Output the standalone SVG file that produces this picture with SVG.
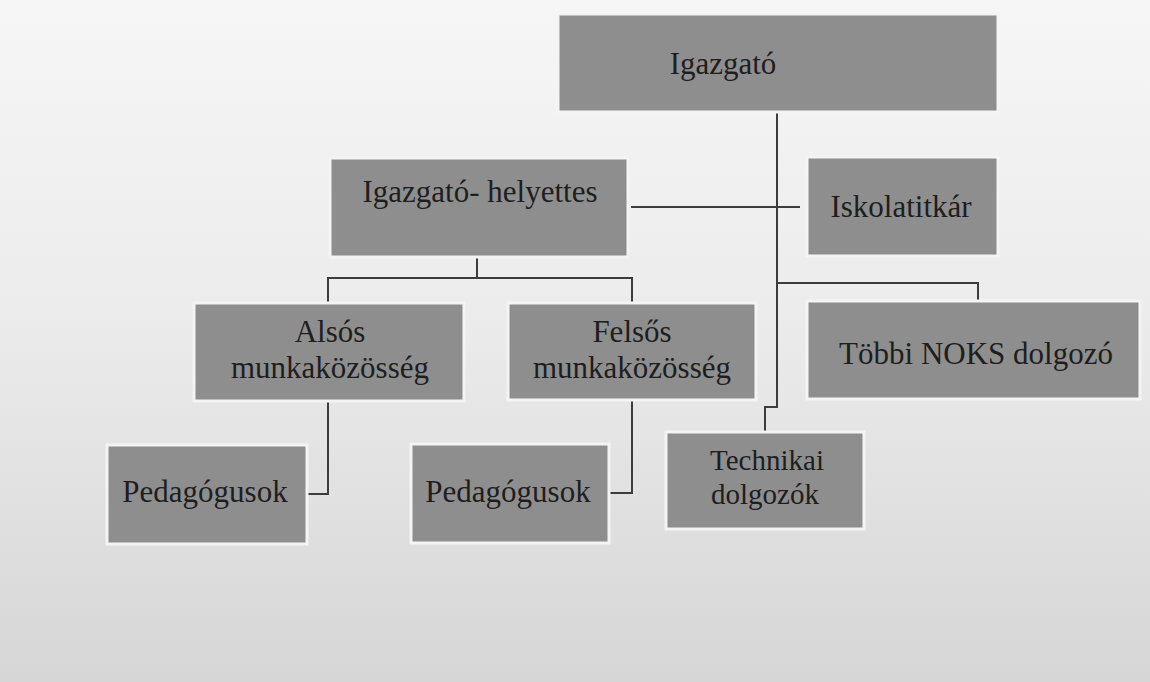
<svg xmlns="http://www.w3.org/2000/svg" width="1150" height="682" viewBox="0 0 1150 682">
<defs>
<linearGradient id="bg" x1="0" y1="0" x2="0" y2="1">
<stop offset="0" stop-color="#f6f6f6"/>
<stop offset="0.45" stop-color="#ececec"/>
<stop offset="0.75" stop-color="#e0e0e0"/>
<stop offset="1" stop-color="#d6d6d6"/>
</linearGradient>
</defs>
<style>
.box{fill:#8e8e8e;stroke:#f4f4f4;stroke-width:3}
.t{font-family:"Liberation Serif","Times New Roman",serif;font-size:31px;fill:#1e1e1e;text-anchor:middle}
.s{font-size:29px}
.c{fill:none;stroke:#3c3c3c;stroke-width:2}
</style>
<rect x="0" y="0" width="1150" height="682" fill="url(#bg)"/>
<g id="connectors">
<polyline class="c" points="777,112 777,407 765,407 765,432"/>
<line class="c" x1="631" y1="207" x2="800" y2="207"/>
<polyline class="c" points="777,283 978,283 978,301"/>
<polyline class="c" points="477,257 477,278"/>
<polyline class="c" points="328,303 328,278 632,278 632,303"/>
<polyline class="c" points="328,401 328,494 307,494"/>
<polyline class="c" points="632,400 632,493 608,493"/>
</g>
<g id="igazgato">
<rect class="box" x="558" y="14" width="440" height="98"/>
<text class="t" x="723" y="74">Igazgató</text>
</g>
<g id="helyettes">
<rect class="box" x="330" y="158" width="298" height="99"/>
<text class="t" x="480" y="202">Igazgató- helyettes</text>
</g>
<g id="iskolatitkar">
<rect class="box" x="807" y="157" width="191" height="99"/>
<text class="t" x="901" y="217">Iskolatitkár</text>
</g>
<g id="alsos">
<rect class="box" x="194" y="303" width="270" height="98"/>
<text class="t" x="330" y="342">Alsós</text>
<text class="t" x="330" y="378">munkaközösség</text>
</g>
<g id="felsos">
<rect class="box" x="508" y="303" width="248" height="97"/>
<text class="t" x="632" y="342">Felsős</text>
<text class="t" x="632" y="378">munkaközösség</text>
</g>
<g id="tobbi">
<rect class="box" x="807" y="301" width="333" height="98"/>
<text class="t" x="976" y="364">Többi NOKS dolgozó</text>
</g>
<g id="pedagogusok1">
<rect class="box" x="107" y="445" width="200" height="99"/>
<text class="t" x="205" y="502">Pedagógusok</text>
</g>
<g id="pedagogusok2">
<rect class="box" x="411" y="444" width="198" height="99"/>
<text class="t" x="508" y="502">Pedagógusok</text>
</g>
<g id="technikai">
<rect class="box" x="666" y="432" width="198" height="97"/>
<text class="t s" x="767" y="470">Technikai</text>
<text class="t s" x="765" y="504">dolgozók</text>
</g>
</svg>
